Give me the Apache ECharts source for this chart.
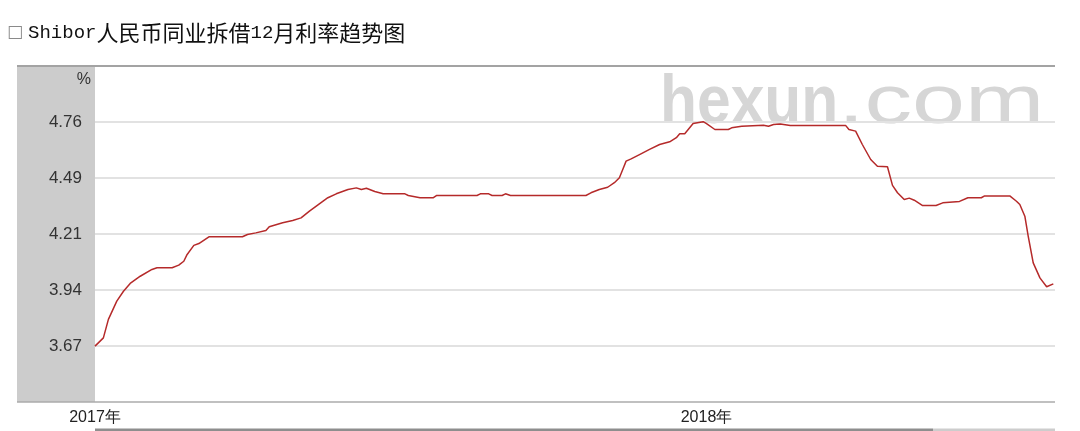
<!DOCTYPE html>
<html>
<head>
<meta charset="utf-8">
<script src="https://cdn.jsdelivr.net/npm/echarts@6/dist/echarts.min.js"></script>
<style>
html,body{margin:0;padding:0;background:#fff;}
#chart{width:1080px;height:431px;}
</style>
</head>
<body>
<div id="chart"></div>
<script>
// ---- data ----
var titleText = 'Shibor人民币同业拆借12月利率趋势图';
var dates = [
  '2017-01-01','2017-01-06','2017-01-09','2017-01-14','2017-01-18','2017-01-22','2017-01-28',
  '2017-02-04','2017-02-07','2017-02-16','2017-02-20','2017-02-23','2017-02-25',
  '2017-03-01','2017-03-04','2017-03-10','2017-03-30',
  '2017-04-02','2017-04-07','2017-04-13','2017-04-15','2017-04-23','2017-04-29',
  '2017-05-04','2017-05-09','2017-05-20','2017-05-25',
  '2017-06-01','2017-06-06','2017-06-09','2017-06-12','2017-06-17','2017-06-22',
  '2017-07-05','2017-07-07','2017-07-14','2017-07-22','2017-07-24',
  '2017-08-17','2017-08-19','2017-08-24','2017-08-26',
  '2017-09-01','2017-09-03','2017-09-06',
  '2017-10-21','2017-10-24','2017-10-29',
  '2017-11-03','2017-11-07','2017-11-10','2017-11-12','2017-11-14','2017-11-17','2017-11-22','2017-11-28',
  '2017-12-04','2017-12-10','2017-12-14','2017-12-16','2017-12-19','2017-12-24','2017-12-30',
  '2018-01-01','2018-01-06','2018-01-14','2018-01-16','2018-01-22',
  '2018-02-04','2018-02-07','2018-02-10','2018-02-14','2018-02-20',
  '2018-03-25','2018-03-27','2018-03-31',
  '2018-04-04','2018-04-09','2018-04-13','2018-04-19','2018-04-20','2018-04-22','2018-04-23','2018-04-25','2018-04-29',
  '2018-05-02','2018-05-05','2018-05-10','2018-05-18','2018-05-22',
  '2018-06-01','2018-06-06','2018-06-14','2018-06-16',
  '2018-07-01','2018-07-05','2018-07-07','2018-07-10','2018-07-12','2018-07-15','2018-07-19','2018-07-23','2018-07-27'
];
var rates = [
  3.667,3.707,3.797,3.886,3.934,3.972,4.007,
  4.040,4.048,4.048,4.061,4.080,4.113,
  4.157,4.166,4.199,4.199,
  4.210,4.218,4.230,4.248,4.267,4.278,
  4.291,4.324,4.389,4.408,
  4.429,4.437,4.429,4.435,4.419,4.408,
  4.408,4.400,4.389,4.389,4.400,
  4.400,4.408,4.408,4.400,
  4.400,4.408,4.400,
  4.400,4.413,4.429,
  4.440,4.462,4.486,4.526,4.567,4.578,4.599,4.624,
  4.648,4.661,4.681,4.700,4.700,4.750,4.759,
  4.750,4.721,4.721,4.729,4.737,
  4.742,4.737,4.745,4.748,4.741,
  4.741,4.721,4.713,
  4.648,4.575,4.542,4.540,4.535,4.449,4.442,4.413,4.380,
  4.387,4.377,4.351,4.351,4.364,
  4.371,4.389,4.389,4.398,
  4.398,4.372,4.356,4.299,4.202,4.072,3.999,3.956,3.970
];
var xTickLabels = ['2017年', '2018年'];
var yTickValues = [3.6675, 3.94, 4.2125, 4.485, 4.7575];
var yTickLabels = ['3.67', '3.94', '4.21', '4.49', '4.76'];
var yUnit = '%';
var watermark = ['hexun', '.com'];

// ---- build ----
var dayMs = 86400000;
var t0 = Date.UTC(2017, 0, 1);
function dayIndex(s) {
  var p = s.split('-');
  return Math.round((Date.UTC(+p[0], +p[1] - 1, +p[2]) - t0) / dayMs);
}
var seriesData = dates.map(function (d, i) { return [dayIndex(d), rates[i]]; });
var xMax = dayIndex('2018-07-28');

var chart = echarts.init(document.getElementById('chart'), null, { renderer: 'canvas' });
chart.setOption({
  animation: false,
  backgroundColor: '#ffffff',
  title: {
    left: 2,
    top: 17,
    text: '{box|□} {a|Shibor}{b|人民币同业拆借}{a|12}{b|月利率趋势图}',
    textStyle: {
      fontWeight: 'normal',
      rich: {
        box: { fontSize: 17, color: '#8a8a8a', fontFamily: 'DejaVu Sans', fontWeight: 'normal' },
        a: { fontSize: 19, color: '#111', fontFamily: 'Liberation Mono', fontWeight: 'normal' },
        b: { fontSize: 22, color: '#111', fontFamily: 'Noto Sans CJK SC', fontWeight: 'normal' }
      }
    }
  },
  grid: { left: 95, right: 25, top: 66, bottom: 29, containLabel: false },
  xAxis: {
    type: 'value',
    min: 0,
    max: xMax,
    interval: 365,
    axisLine: { show: false },
    axisTick: { show: false },
    splitLine: { show: false },
    axisLabel: {
      show: true,
      showMaxLabel: false,
      margin: 8,
      fontSize: 16,
      color: '#222',
      fontFamily: 'Liberation Sans',
      formatter: function (v) {
        var i = Math.round(v / 365);
        return (v % 365 === 0 && xTickLabels[i]) ? xTickLabels[i] : '';
      }
    }
  },
  yAxis: {
    type: 'value',
    min: 3.395,
    max: 5.03,
    axisLine: { show: false },
    axisTick: { show: false, customValues: yTickValues },
    splitLine: { show: true, lineStyle: { color: '#e2e2e2', width: 2 } },
    axisLabel: {
      customValues: yTickValues,
      margin: 13,
      fontSize: 17,
      color: '#333',
      fontFamily: 'Liberation Sans',
      formatter: function (v) {
        for (var i = 0; i < yTickValues.length; i++) {
          if (Math.abs(v - yTickValues[i]) < 1e-6) return yTickLabels[i];
        }
        return '';
      }
    }
  },
  graphic: [
    { type: 'rect', z: -1, shape: { x: 17, y: 66, width: 78, height: 336 }, style: { fill: '#cccccc' } },
    { type: 'text', z: 0, x: 660, y: 104, scaleX: 0.89,
      style: { text: watermark[0], fontSize: 68, fontWeight: 'bold', fontFamily: 'Liberation Sans', fill: '#d6d6d6', align: 'left', verticalAlign: 'middle' } },
    { type: 'text', z: 0, x: 838, y: 104, scaleX: 1.4,
      style: { text: watermark[1], fontSize: 68, fontFamily: 'Liberation Sans', fill: '#d6d6d6', align: 'left', verticalAlign: 'middle' } },
    { type: 'text', z: 5, x: 91, y: 80,
      style: { text: yUnit, fontSize: 16, fontFamily: 'Liberation Sans', fill: '#333', align: 'right', verticalAlign: 'middle' } },
    { type: 'line', z: 5, shape: { x1: 17, y1: 66, x2: 1055, y2: 66 }, style: { stroke: '#a3a3a3', lineWidth: 2 } },
    { type: 'line', z: 5, shape: { x1: 17, y1: 402, x2: 1055, y2: 402 }, style: { stroke: '#ababab', lineWidth: 1.5 } },
    { type: 'rect', z: 5, shape: { x: 95, y: 428.5, width: 838, height: 2.5 }, style: { fill: '#8e8e8e' } },
    { type: 'rect', z: 5, shape: { x: 933, y: 428.5, width: 122, height: 2.5 }, style: { fill: '#cdcdcd' } }
  ],
  series: [{
    type: 'line',
    data: seriesData,
    showSymbol: false,
    symbol: 'none',
    z: 3,
    lineStyle: { color: '#b52a2a', width: 1.5 }
  }]
});
</script>
</body>
</html>
